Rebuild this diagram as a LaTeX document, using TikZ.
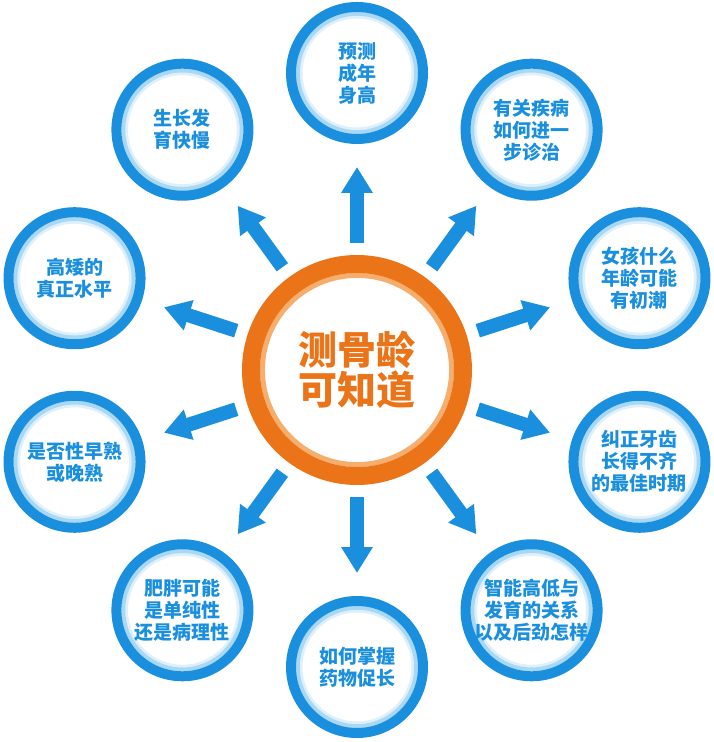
\documentclass[tikz,border=0pt]{standalone}
\usepackage{fontspec}
\usepackage{tikz}
\usetikzlibrary{arrows.meta}
\newfontfamily\cjk{Noto Sans CJK SC}
\definecolor{Azure}{HTML}{1A8FDD}
\definecolor{Sky}{HTML}{A9D8F5}
\definecolor{Frost}{HTML}{DDF0FC}
\definecolor{Amber}{HTML}{EC7418}
\definecolor{Peach}{HTML}{F6AE6E}

\begin{document}
\begin{tikzpicture}[x=0.5pt,y=0.5pt,
    topic/.style={circle,draw=Azure,line width=5pt,fill=white,minimum size=66pt,inner sep=0pt,
      align=center,text=Azure,font=\cjk\bfseries\fontsize{9.5}{11}\selectfont,
      path picture={
        \draw[Frost,line width=1.5pt] (path picture bounding box.center) circle (28pt);
        \draw[Sky,line width=2pt] (path picture bounding box.center) circle (29.6pt);}},
    hub/.style={circle,draw=Amber,line width=9pt,fill=white,minimum size=106pt,inner sep=0pt,
      align=center,text=Amber,font=\cjk\bfseries\fontsize{19.5}{20}\selectfont,
      path picture={\draw[Peach,line width=2.5pt] (path picture bounding box.center) circle (47.3pt);}},
    spoke/.style={Azure,line width=7pt,-{Triangle[width=15pt,length=13pt]},
      shorten <=63.5pt,shorten >=47pt}]
    \useasboundingbox (-357,-372) rectangle (356,370);
    \node[hub] (ctr) at (0,0) {测骨龄\\可知道};
    \node[topic] (height) at (90:297) {预测\\成年\\身高};
    \node[topic] (disease) at (54:297) {有关疾病\\如何进一\\步诊治};
    \node[topic] (menarche) at (18:297) {女孩什么\\年龄可能\\有初潮};
    \node[topic] (teeth) at (-18:297) {纠正牙齿\\长得不齐\\的最佳时期};
    \node[topic] (iq) at (-54:297) {智能高低与\\发育的关系\\以及后劲怎样};
    \node[topic] (drug) at (-90:297) {如何掌握\\药物促长};
    \node[topic] (obesity) at (-126:297) {肥胖可能\\是单纯性\\还是病理性};
    \node[topic] (puberty) at (-162:297) {是否性早熟\\或晚熟};
    \node[topic] (stature) at (162:297) {高矮的\\真正水平};
    \node[topic] (growth) at (126:297) {生长发\\育快慢};
    \draw[spoke] (ctr.center) -- (height.center);
    \draw[spoke] (ctr.center) -- (disease.center);
    \draw[spoke] (ctr.center) -- (menarche.center);
    \draw[spoke] (ctr.center) -- (teeth.center);
    \draw[spoke] (ctr.center) -- (iq.center);
    \draw[spoke] (ctr.center) -- (drug.center);
    \draw[spoke] (ctr.center) -- (obesity.center);
    \draw[spoke] (ctr.center) -- (puberty.center);
    \draw[spoke] (ctr.center) -- (stature.center);
    \draw[spoke] (ctr.center) -- (growth.center);
  \end{tikzpicture}
\end{document}
